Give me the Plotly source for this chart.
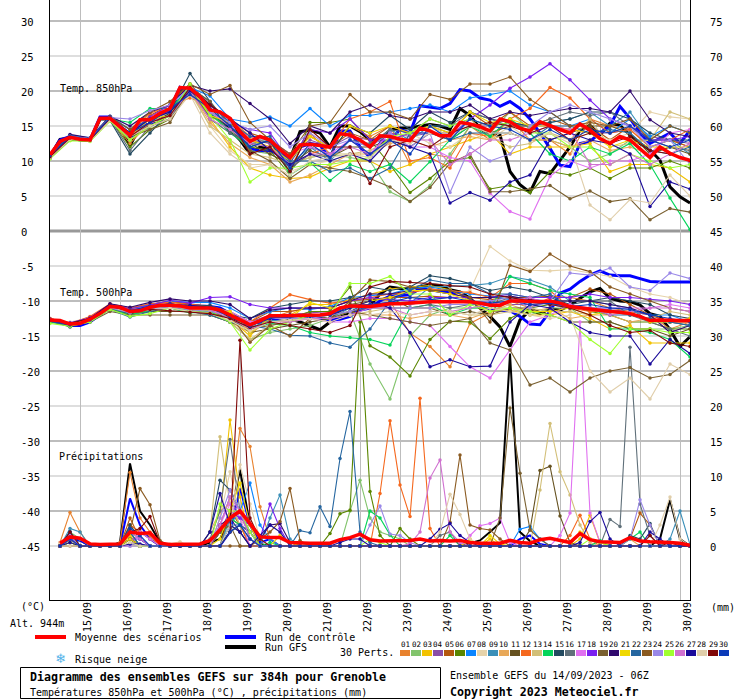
import plotly.graph_objects as go

# ---------- colours of the 30 perturbations ----------
member_colors = ["#e8822e","#82c46c","#f2c200","#8a4ea6","#b4580e","#5a8600","#0a85ff","#e6d3aa","#3a8fb8","#e8a858",
                 "#665220","#f5681e","#d2bf78","#05d45a","#234a60","#60707a","#e070f0","#7a1ff0","#7a6030","#30086e",
                 "#f0d800","#2566a0","#8a5a20","#9a88e8","#a0ff30","#d070d0","#1a0a9a","#e0ceaa","#800808","#0a3ab8"]
member_labels = ["%02d" % (k + 1) for k in range(30)]

date_labels = ["15/09","16/09","17/09","18/09","19/09","20/09","21/09","22/09",
               "23/09","24/09","25/09","26/09","27/09","28/09","29/09","30/09"]
date_hours = [18,42,66,90,114,138,162,186,210,234,258,282,306,330,354,378]
left_ticks = [30,25,20,15,10,5,0,-5,-10,-15,-20,-25,-30,-35,-40,-45]
right_ticks = [75,70,65,60,55,50,45,40,35,30,25,20,15,10,5,0]
thick_levels = [30,20,10,-10,-20,-30,-40]
thin_levels = [25,15,5,-5,-15,-25,-35,-45]

# ---------- 6-hourly main runs (index 0..64) ----------
mean_t850 = [10.9,12.8,13.4,13.1,13,16.1,16.1,14.9,13.7,15.9,15.9,16.8,17.5,20.5,20.4,19.2,17.3,17,16.1,14.2,12.8,13.5,13,11.6,10.5,12.3,12.4,12.2,12,13.9,13.7,13,12,
             13.6,13.5,13.1,12.9,14.7,14.3,13.6,13.6,15.5,15.3,14.9,14.3,16,15.6,14.7,14.3,15.6,15,14.5,14,15.3,14.4,13.2,12.5,13.5,13,11.8,10.5,12,11.1,10.5,10.1]
ctrl_t850 = [10.7,13,13.5,13.2,13,16.3,16.3,15,13.2,15.2,15.2,16.5,17.5,20.5,19.6,18.3,16.6,15.9,15,13.8,11.8,11.4,11.5,11.2,10,12,12.5,12.3,10.3,14.3,14.3,12,10.5,
             12.5,13,14.5,14,17.9,17.7,17.5,18.2,20.2,20,19,18.7,17.8,18.5,17.5,16,14,11.8,9.4,9.2,12.5,12.8,14,15,17.8,16.1,14,12.5,13.2,14,12.5,14.4]
gfs_t850 = [10.6,13.1,13.3,13,12.9,16,16,14.8,12.2,14.9,15,16,17,20.2,20,18.6,16.5,16,14.5,13,11,12,11.8,11,10.2,14.2,14.4,14,12,15,15,14.2,13,
            13,14.4,14.7,14.7,15,15.2,15,14.5,17.5,16.5,14.7,13.7,13.7,8.5,6.6,5.5,8.5,8.2,10.1,12,14.4,15.1,13.7,15.4,15.1,13.7,12.5,11.6,10.1,6.3,4.9,4]
mean_t500 = [-12.7,-12.8,-13.3,-13.2,-12.6,-11.8,-10.8,-10.9,-11.5,-11.4,-10.9,-10.6,-10.6,-10.7,-11,-11,-11,-11.3,-12,-12.7,-13.4,-12.8,-12.1,-12.1,-12.1,-12,-12,-12,-11.8,-11,-10.7,-10.7,-10.8,
             -10.6,-10.4,-10.4,-10.3,-10.1,-10.1,-10.1,-10.1,-10.1,-10.1,-10.3,-10.6,-10.6,-10,-10,-10.1,-10.1,-10,-10.3,-10.8,-11,-11.1,-11.4,-11.5,-11.6,-11.8,-12.2,-12.8,-12.7,-12.8,-12.8,-12.8]
ctrl_t500 = [-12.8,-13,-13.5,-13.5,-13,-12,-10.9,-10.8,-11.4,-11.2,-10.6,-10.4,-10.3,-10.4,-10.6,-10.7,-10.8,-11,-11.8,-12.5,-13.2,-13,-12.7,-12.3,-12.1,-12,-12.2,-12.4,-12.7,-12.6,-12.2,-11.3,-11,
             -10,-9.3,-9.2,-9.1,-8.2,-8.4,-8.6,-8.7,-9,-9.8,-10.8,-11.3,-11.4,-11.4,-12.2,-13.3,-13.4,-11.5,-8.9,-8.3,-7.2,-6.3,-5.7,-6.3,-6.4,-6.4,-6.8,-7.2,-7.3,-7.3,-7.3,-7.3]
gfs_t500 = [-12.7,-12.9,-13.4,-13.3,-12.7,-11.9,-10.9,-10.9,-11.6,-11.4,-11,-10.6,-10.4,-10.5,-11,-11,-11,-11.4,-12.2,-12.8,-13.2,-13,-12.6,-12.4,-12.5,-13,-13.5,-14.1,-13,-12.3,-11.6,-11,-10.6,
            -9,-8,-8.2,-8.2,-8,-7.7,-7.8,-8.4,-8.7,-9.6,-11,-12.2,-13.7,-16.5,-12.7,-11.3,-11.8,-11.1,-11.3,-10.6,-9.6,-8.7,-8.2,-9.6,-10,-10.1,-10.6,-11.8,-12.2,-14.1,-16.5,-15.1]
mean_rain = [.4,1.3,1.1,.3,.2,.2,.3,2,1.8,1.9,.4,.2,.2,.2,.3,.8,2.3,4,5,3.2,1.3,1.2,1.2,.5,.4,.4,.4,.4,.9,1.2,1.7,.9,
             .7,.7,.7,.8,1,.7,.8,.7,.8,.5,.4,.4,.4,.8,.5,.4,.9,1.1,.8,.5,1.8,.9,.6,.5,.5,1.2,.7,.6,.6,.5,.4,.1]
ctrl_rain = {1:.2,2:1,3:.8,8:6.8,9:3,10:1,18:2,19:8.2,20:3,21:.5,22:1,47:1,48:1.5,49:.3}
gfs_rain = {1:.2,2:1,3:.8,7:.5,8:11.8,9:5,10:3,11:.5,16:.5,17:1,18:4,19:10.9,20:3,21:.3,42:.4,43:.8,44:2,45:3.3,46:27.5,47:2,48:.7,61:1,62:6.6,63:1}

# ---------- 12-hourly perturbations ----------
pert_t850 = [
 [10.6,13.3,13,16,12.5,15.5,17,20,17.5,16,13.5,12.5,9,14,11,15,13.5,15,9.5,11,10.5,15,13,16,13,13,11,16,15,14.5,12,13,12],
 [10.5,13.2,13,15.8,13,15,16.5,19.8,16.5,14.5,11.5,11,9.5,10.5,11,10.5,10,5.6,4.2,6.5,11,15,14,17,14.5,13,12,10,11,13,13,15,14],
 [10.4,13,12.9,15.9,13.5,15,16,20,16,12,9,8,7.5,7.7,9,10,10,8.5,9.5,11,12,13,14,11,12,12,12,12.5,8.5,9.5,9.5,9,7],
 [10.8,13.5,13.2,16.2,14,16,17.5,20.5,17,15,13,12.5,11,13,12,13.5,13,14,13.5,14,14,15,15,15.5,15,15,14.5,14,14,14.5,13.5,13,12.5],
 [10.9,13.6,13.1,16.3,13.5,16.5,18,21,18,16,14,13,11,13.5,12,14,13,15,14,15,14,17,15,17,15,16,15,15,13,15,13,13,12],
 [10.7,13.4,13,16,12,14.5,16,20,16.5,15,12,11.5,8,15.5,15.5,16,13,9.5,5.5,7.5,10,10.5,6,6.5,5.5,8.5,8,9,7.5,9,9,10,9],
 [10.9,13.7,13.3,16.4,14.5,16,17.5,20.5,19.3,16,15.5,16.3,15,17.5,15,16.5,16.5,17,17.5,18,17,19,19.5,20,18,17,15,16,14,16,13.5,15,14],
 [10.5,13.1,12.9,15.7,13.5,15.5,16,19.8,15,11.5,9.5,9.5,8.5,9.5,10,11,10.5,13,14,12.5,12,14,13,15,13,14,13,14,13,14,17,16.3,16],
 [10.8,13.5,13.1,16.1,13,15.5,17,20.5,18.5,15,13,13,9.5,12,10,13,12,14.5,13,15,15,16,15,15.5,15,15.5,16,17,15,17,13,13,11],
 [10.6,13.2,13,16,13,15,16,20,15.5,12.5,10.5,9.5,7,8,9.5,11,11,12.5,13,12,13,13.5,13,14,13,13,12,13,11.5,12,11,12,11.5],
 [10.7,13.3,13,16,13.5,15,16.5,20,17,15.5,12.5,11,9.5,11.5,10.5,12,12,13,12,14,13,15,14,15,15,13,14,15,15,14,11,12,11],
 [10.5,13.4,13,16.2,14,16.8,18,19,18,16,13,12,9,11,12,16,17,18.5,10,10.5,9,14,13.5,16,17.5,20.5,19,16,14,14.5,12,13,14.5],
 [10.6,13.3,13,16,13.5,15.5,17,20,15,13,11,10.5,9.5,10.5,11,11,11.5,13,14,15,13.5,16,13.5,12,12.5,14,13,16,12,12.5,13,17,16],
 [10.7,13.4,13,16,15.5,17.5,17.5,20.3,17,14,12,13,8,9.8,7.2,9.5,8.5,9.5,7,9.9,13,15,13.5,16,14,11,10,12,11,12.5,9.5,4.7,0.2],
 [10.4,13,12.9,15.8,11,14,17,22.5,18.5,14,12.5,12.8,8.5,12,11,15,14,16.5,14.5,17,15.5,17,16,15.5,15,15.5,16,17,17,16,14,13,13],
 [10.6,13.2,13,16,11.5,15,16,20.3,16,14,12.5,12,9,11,10.5,13,12.5,14.5,14,16,15,17,16,15,15,16,17,16.5,17,15,13,12,11.5],
 [10.7,13.4,13.1,16.1,13.5,16,17,20.5,17,15,13.5,13,11,12,11,13,11,14,12,12,10.5,10,5.4,2.8,1.7,7.8,10,9,10,10,11,14,14.5],
 [10.8,13.5,13.2,16.2,14,16.3,18,20.8,18,15.5,14.5,14,10,14.5,14,16,13,13,14,14,13.5,16,18,20.4,22,23.9,21.6,18.7,16,15,13,13,13.5],
 [10.6,13.2,13,16,13.5,14.5,15.5,20.5,18.5,15,11.5,10,7.5,9.5,9,8.5,7.5,6.3,4.2,6.2,9.7,11,5.6,5.6,6,6.5,4.6,5.7,4.2,4.6,1.6,3.2,2.7],
 [11,13.8,13.3,16.4,15,17,18,20.8,20,20.3,18.2,16,12.5,15,14,17,18,16.5,16,17,17,18,16,17,16.5,17,17.5,17.5,17,20,15.9,14,13.5],
 [10.7,13.3,13,15.9,13.5,16,16.5,20.5,16.5,15.5,13,12,10,13.5,12,15,14,15,14,15,14,17,15.5,16,15,15,14.5,14,12,13,12,12,12],
 [10.9,13.6,13.2,16.2,14.5,16,17,20.5,18,15.5,13.5,13.5,10,10,8.5,9,7.5,9,14,14,13,14,14,14,13,15,15,14,14.5,14,11.5,11,12],
 [10.8,13.5,13.1,16.3,14.5,17,18.5,21,19.5,20.8,15.5,13,11,15,15.5,19.5,17,17,16,19.5,18.8,21,21,22,18.8,17,15,15.5,15,16,13,15,14],
 [10.7,13.5,13.2,16.2,16,17.2,18,20.5,17,15.5,14.5,15,12,14,12,13,12,14,12,14,5.5,12,10,11,15,17,18,17,16,15,12,13,9.5],
 [10.3,12.9,12.8,15.7,13,15,16.5,21,16.5,13,7,9,9,9.5,9.5,10,10.5,13.5,14,16,15,16,15,15.5,14,14,12,12,9.5,11,10,9,9.5],
 [10.6,13.2,13,16,13.5,15.5,16.5,20,16,14.5,12.5,12,9.5,11,11,12,11,13,13,13,9.5,11,13,13,14,15,14.5,9.5,9.5,11,9.5,11,12.5],
 [10.7,13.4,13,16.1,14,16,17,20,18,16,14,11.5,9.5,11,10,11,10,13,12,11,4,5.5,4.4,7,8,13,14,13,12.5,11,3.5,7,6],
 [10.5,13.1,12.9,15.8,13.5,15,16,19.5,14,11,9,9.5,8,10,10.5,11,10.5,13,12.5,14,13.5,15,14,14,13,14,12.5,3.7,1.6,4.5,4,8,5],
 [10.6,13.3,13,16.1,13.5,15.5,16.5,20.5,18,16,11,12,8.5,14.5,12,12,6.8,12,13,12,14,15,15.5,15,14,15,13,14,12.5,13.5,11.5,11,10],
 [10.8,13.5,13.1,16.2,14,15.5,17.5,19.5,17.5,15,12,13,9,12.5,10.5,13,11,13,11,15,13,16,15,14.5,13,14.5,13,14.5,14,15,13,12,13],
]
pert_t500 = [
 [-12.8,-13.4,-12.4,-10.6,-11.2,-10.7,-10,-10.7,-11.5,-11.8,-13,-12.5,-11.5,-11,-11,-10,-9.5,-10,-14.6,-16.5,-19.4,-13.2,-11.7,-10,-11,-9.5,-9.5,-10,-11,-11.5,-12,-14,-13],
 [-13,-13.5,-13,-11,-12,-11.5,-11.5,-11.5,-12,-13,-15.5,-14.5,-14,-13.5,-12.5,-11.5,-19,-24,-15,-12,-11,-11,-11,-11,-12,-11,-11,-13,-13,-14,-14,-14,-13.5],
 [-12.9,-13.4,-12.8,-10.9,-11.6,-11,-10.5,-11.2,-11.5,-12.5,-15,-12,-12,-10.5,-10.5,-9.8,-9,-8.3,-8,-7.8,-8.4,-10,-11.5,-11.3,-12,-12,-11.5,-12.5,-14,-13.5,-16,-16,-16],
 [-12.6,-13.1,-12.5,-10.7,-11.3,-10.8,-10.4,-10.8,-10.8,-11.8,-13,-12,-12,-11.7,-11.5,-10.5,-10.5,-10.2,-10.5,-10,-10,-10.3,-10,-10.5,-10.5,-10.3,-11,-11,-11.3,-11.5,-12,-13,-13],
 [-12.5,-13.2,-12.3,-10.5,-11,-10.5,-10,-10.5,-10.7,-11.5,-13,-11.5,-11.5,-11,-11,-10,-9.8,-9.5,-9.5,-9.3,-9.5,-9.5,-9.8,-9.5,-9.5,-9.3,-9.5,-8.3,-9,-10.5,-12,-13,-13.5],
 [-12.8,-13.5,-12.7,-11,-11.6,-10.9,-10.8,-11.3,-11,-11.8,-13.5,-12.5,-12.5,-11.5,-11.5,-8,-16.4,-18,-20.7,-15.5,-12.9,-13,-15.4,-12.5,-11,-10.5,-10.5,-11.5,-12,-13,-13,-14,-14],
 [-12.7,-13.2,-12.6,-10.6,-11.1,-10.5,-10,-10.2,-10.2,-11,-12.5,-11.5,-11,-11.2,-10.8,-9.5,-9.2,-9,-8.2,-8,-8.5,-9,-9.3,-9.8,-10,-10.5,-11,-11,-11,-11,-12,-12,-13],
 [-12.6,-13,-12.4,-10.6,-11.3,-10.8,-10.2,-10.8,-11.2,-12.5,-14,-13,-12.5,-12,-12,-10.5,-11,-10.5,-10.4,-10,-9.5,-8.5,-2.2,-4.3,-5.6,-5.7,-5.5,-6,-6.5,-8,-9,-9.5,-10.5],
 [-12.9,-13.5,-12.8,-11,-11.6,-11,-10.8,-11.2,-11.3,-12.5,-13.8,-12.8,-12.8,-12.5,-12.5,-11,-11,-10.5,-10.3,-8,-7.9,-7.8,-7.5,-6.5,-7,-8,-10,-10,-10.5,-11,-13,-13,-13.5],
 [-12.7,-13.3,-12.5,-10.7,-11.4,-10.7,-10.5,-11,-12,-13,-14.5,-13,-12.8,-12,-12,-11.5,-12,-12,-12.5,-12,-12,-12.5,-11.5,-10.5,-11.5,-11,-12.5,-12,-12,-13,-12.5,-13,-13],
 [-12.8,-13.4,-12.7,-11.2,-11.8,-11.5,-11.5,-11.4,-11.8,-12.3,-14.5,-14,-13.5,-13,-12.5,-10.5,-10,-9.5,-11,-11,-12,-11.5,-12,-11,-11,-12,-13,-13,-13,-14,-14,-15,-14],
 [-12.5,-13.2,-12.2,-10.4,-11,-10.4,-10.2,-10.5,-10.8,-12,-13,-11,-9.1,-9.8,-10.3,-10,-9.5,-9,-8.8,-8.3,-8.5,-8.8,-9.5,-7.5,-7.5,-8.5,-11,-11.5,-11.5,-12,-12.5,-13,-13],
 [-12.9,-13.4,-12.8,-10.9,-11.5,-10.8,-10.6,-11.2,-11.5,-13,-15.5,-13.5,-13,-12.5,-12.5,-12,-11.5,-11,-11,-11,-11.5,-12,-12,-11.5,-11,-11.5,-11.5,-12,-11.5,-12,-12.5,-11.5,-12],
 [-13,-13.6,-12.9,-11,-12,-11.3,-11,-11.7,-11.5,-13,-14,-13.2,-13.5,-14.5,-15,-15.2,-15.5,-16.3,-11,-10.5,-12,-11,-11,-6.5,-7.5,-8.5,-9,-9.5,-14,-14,-14.5,-15.5,-18],
 [-12.8,-13.7,-12.9,-11,-11.8,-11,-10.4,-10.8,-10.6,-12,-12.5,-11,-10.5,-10,-10,-9.5,-8,-8.5,-8,-6.4,-6.8,-7.5,-8.5,-8,-8.5,-9.5,-10.5,-10,-9.5,-10,-10.5,-12,-12.5],
 [-12.7,-13.3,-12.6,-10.8,-11.5,-11,-10.8,-11,-11,-12,-13.5,-12,-12,-12.5,-12,-11.5,-11,-11,-11,-10.5,-11,-10.5,-10.5,-9.5,-10,-10,-10,-10,-10,-12,-13,-14,-15],
 [-12.7,-13.2,-12.5,-10.6,-11.3,-10.8,-10.5,-11,-11,-11.5,-13,-12.5,-12.5,-12.5,-13,-13,-12.5,-12.5,-13,-13.5,-16.5,-19.4,-21,-17,-13,-12,-10.5,-11,-11,-11,-11,-10.5,-11],
 [-12.6,-13.1,-12.4,-10.5,-11.1,-10.6,-9.9,-10.3,-9.5,-9.4,-10.5,-11,-11,-11,-11,-10,-9.5,-9.8,-10,-9.5,-9.5,-9.5,-9.5,-9,-9.5,-9.5,-9.5,-9,-9.5,-9.5,-9.8,-10,-10.5],
 [-12.9,-13.5,-13,-11.5,-12,-12,-12,-12,-12,-13,-14,-13.5,-13,-12,-12.5,-11.5,-12,-12.5,-13,-13.5,-13,-12.5,-16,-17,-22,-21,-23,-21,-20,-19.5,-21,-20.5,-18.5],
 [-12.6,-13.2,-12.5,-10.4,-10.9,-10.2,-9.7,-10,-10,-10.5,-12.5,-11.3,-11,-11,-11,-10,-9,-9,-8.5,-8.5,-9,-9.5,-9.5,-9.3,-9.8,-10,-10,-10,-10.5,-11,-12,-14.5,-13.5],
 [-12.8,-13.3,-12.6,-10.8,-11.6,-11,-10.7,-11.2,-11.3,-11.5,-14.5,-12.5,-12.5,-10.2,-11,-11,-10,-9.5,-8.5,-8.5,-9,-10,-11.5,-11,-11.5,-11.5,-11,-12,-11.5,-11.5,-13,-13,-12.5],
 [-12.9,-13.6,-13,-11.2,-12.3,-11.5,-11,-11.5,-12,-13,-13.5,-14,-14.9,-15,-16,-16.6,-14,-10,-8.5,-7,-7.5,-7.5,-9,-9,-9.5,-9,-11,-11,-12,-12,-12.5,-13,-13.5],
 [-12.7,-13.2,-12.6,-10.7,-11.3,-10.8,-10.4,-10.8,-11,-12,-15.9,-13.5,-15,-12.5,-12.5,-10,-7,-7.2,-8,-8.5,-8.5,-9.5,-13,-4.9,-5.8,-3.3,-5,-5.8,-8,-9,-10,-11,-11.5],
 [-12.8,-13.3,-12.7,-11,-11.7,-11.2,-11,-11.3,-11.5,-12,-13.5,-12.5,-12.5,-12.5,-12,-11.5,-10.5,-11,-11,-11,-10.5,-10.5,-10,-9.5,-11,-10,-6,-6.3,-5.3,-8,-8.5,-6,-6.8],
 [-13.2,-13.6,-13,-11.2,-12.2,-11.8,-11,-11.5,-11.7,-13,-17,-14,-13,-12,-12,-7.5,-7.5,-6.5,-9,-9,-12,-10.5,-11.5,-11,-11.5,-12,-13,-15.5,-17.5,-14,-14,-14.5,-14.5],
 [-12.7,-13.3,-12.7,-10.8,-11.4,-10.9,-10.8,-11,-11.2,-12.5,-14,-13,-13,-12.5,-12.5,-12,-11,-11,-12,-11.5,-11.5,-11,-10.5,-10,-9.5,-10.5,-11,-11,-12,-11.5,-11,-11,-11.5],
 [-12.8,-13.4,-12.6,-10.7,-11.4,-10.9,-10.5,-10.6,-10.9,-12,-13.5,-12.5,-12,-12,-12,-11,-10,-11,-14.5,-19.4,-18.4,-19.4,-19.3,-13,-10.5,-11,-13,-14.5,-15,-15,-19,-15.5,-17.5],
 [-12.7,-13.3,-12.6,-10.9,-11.5,-11.2,-11,-11.5,-11.8,-12.8,-14.3,-13,-12.7,-12.5,-13,-12,-12,-11.5,-12,-11.5,-11.5,-12,-11,-11.5,-12,-12.5,-12,-20,-23,-21,-24,-19,-20.5],
 [-12.7,-13.2,-12.5,-10.7,-11.5,-11.2,-11.4,-11.6,-11.8,-12.5,-13.8,-13,-13.5,-14,-14.5,-13.5,-8,-7.2,-7.3,-7.5,-7.8,-8,-9,-9.5,-10,-10.5,-11,-12,-13.5,-14.5,-14.2,-16,-16.5],
 [-12.8,-13.4,-12.7,-10.8,-11.4,-10.7,-10.4,-10.9,-11,-12.2,-13.6,-12.4,-12.3,-12.2,-12,-10.8,-10.5,-10.2,-9.5,-9.8,-9.5,-10,-10.3,-10,-10.5,-10.3,-10.8,-10.5,-11,-11.2,-12,-12.5,-13],
]
pert_rain = [
 {1:.5,2:4.8,3:2,7:.5,8:10.5,9:4,10:2,17:2,18:5,19:16.8,20:14.2,21:5.6,22:1},
 {2:2,3:1,8:2,9:1,18:4,19:3,30:5,31:9.4,32:4,33:2,34:1.5,35:1},
 {2:1.5,8:1.5,17:4,18:18,19:7,20:1,42:1,44:1,53:1,54:4.4,55:.5},
 {2:2,9:2,10:1,17:3,18:7,19:4,20:2},
 {2:1,8:4,9:1,18:5,19:3,58:1,59:4.7,60:3},
 {2:1,8:2,17:2,18:3,19:2,28:1.8,29:4.6,30:5.1,31:32,32:7.8,33:1.5,35:2.5,36:1},
 {2:2,8:3,9:1,18:3,19:5,20:9,21:3,22:1,47:2.4,48:2.8,49:1},
 {1:.5,2:1,12:.3,13:.6,17:4,18:10.6,19:4,20:2},
 {2:2.5,3:2,8:2,18:4,19:4,20:3,22:4,23:7.3,24:1,62:1,63:5,64:.2},
 {2:1,8:1,16:2,17:5,18:6,19:3,58:1},
 {2:.5,8:3,9:2,10:1,18:2,19:3,20:2,48:2.3,49:10.8,50:11.4,51:4.3,52:.5},
 {2:1.5,8:3,9:2,10:1.5,17:2,18:4,19:3,33:7.5,34:17.9,35:8.7,36:4.2,37:21.1,38:2.5,52:1.5,53:4.4,54:1},
 {2:1,16:2,17:15.6,18:6,19:3,20:1,49:8,50:17.5,51:10.6,52:7.3,53:3,54:.5},
 {2:1,8:1,17:2,18:4,19:3,20:1,22:.5,26:.3,32:5,33:4,34:1.6,40:1.5,55:.8,58:1,59:2},
 {2:2,8:3,9:1,16:2,17:9.4,18:8,19:5,20:2,58:1.5,59:1,60:3.2},
 {2:1,8:2,16:1,17:5,18:15.2,19:5,20:1,39:1.5,40:2,56:3.8,57:2.8,58:28.4,59:6,60:1.5},
 {2:1,9:2,10:1,17:3,18:6,19:4,42:1.5,43:2.9,44:3.2,45:4,46:.5,51:1.5,52:4.7,53:32,54:4.7,55:.5},
 {2:1.5,8:1,9:1,17:2,18:5,19:4,20:3,21:1,22:6,23:2.5},
 {2:.5,8:1,17:2,18:3,45:4,46:19.7,47:10.4,48:2.3,49:1},
 {2:1,8:1,17:3,18:4,19:2,21:1,22:3,23:3.2,24:.5},
 {2:.5,8:1,17:1,18:5,19:9,20:3,23:1.5,24:.5,42:.8,44:1.5,45:.3,53:2,54:1,55:.5},
 {2:2,8:2,18:3,19:3,20:2,25:2.2,26:1.9,27:5.6,28:2.8,29:12.5,30:19.2,31:2,32:.5},
 {8:2,9:8.2,10:5.9,11:.8,21:1,22:2,23:3.5,24:8.2,25:.8,40:3.4,41:13,42:3,43:2.5,44:2.3,45:1},
 {2:1.5,17:4,18:8,19:5,20:2,32:3,33:5.7,34:1.7,35:1.5,36:.5,58:1,59:6.6,60:3},
 {2:.5,8:.5,17:6,18:5,19:5,20:2,32:1,33:.5,54:1,55:.5},
 {2:1,8:2,9:1,17:3,18:7,19:5,20:1,36:.3,37:2,38:9.7,39:12.3,40:2,41:.5},
 {2:.5,8:.3,9:.3,16:2,17:7.5,18:3,19:2,21:1.5,22:3,23:2,29:.5,30:1,31:1,38:1,39:2.4,40:3.2,41:1.5,42:.5,53:.5,54:3.5,55:4.8,56:1,60:2,61:1},
 {8:.5,13:.5,18:3,19:11.6,20:6,21:1,39:2,40:7.4,41:4.5,42:1,61:3,62:7,63:1},
 {2:2,8:2,9:2.5,10:4.2,11:.5,18:2,19:29.4,20:4,21:1,60:1.5,62:.5},
 {2:1,8:2.5,9:1.5,18:2,19:3,20:1},
]

STEP_H = 6
RAIN_OFFSET = -45      # rainfall 0 mm sits on -45 of the left scale
N_STEPS = 65

hours_6h = [k * STEP_H for k in range(N_STEPS)]
hours_12h = [k * 2 * STEP_H for k in range(33)]
rain_hours = hours_6h[1:]

def dense_rain(sparse):
    return [sparse.get(k, 0) + RAIN_OFFSET for k in range(1, N_STEPS)]

FONT = "DejaVu Sans Mono"
fig = go.Figure()

def add_main(x, y, color, width):
    fig.add_trace(go.Scatter(x=x, y=y, mode="lines", line=dict(color=color, width=width),
                             hoverinfo="skip", showlegend=False))

# GFS and control lie under the perturbations, the mean over everything
for y, w in [(gfs_t850, 3), (gfs_t500, 3), (dense_rain(gfs_rain), 2)]:
    add_main(hours_6h if len(y) == N_STEPS else rain_hours, y, "#000000", w)
for y, w in [(ctrl_t850, 3), (ctrl_t500, 3), (dense_rain(ctrl_rain), 2)]:
    add_main(hours_6h if len(y) == N_STEPS else rain_hours, y, "#0000ff", w)

def add_pert(x, y, color):
    fig.add_trace(go.Scatter(x=x, y=y, mode="lines+markers", line=dict(color=color, width=1.1),
                             marker=dict(color=color, size=3.5), hoverinfo="skip", showlegend=False))

for k, color in enumerate(member_colors):
    add_pert(hours_12h, pert_t850[k], color)
    add_pert(hours_12h, pert_t500[k], color)
    add_pert(rain_hours, dense_rain(pert_rain[k]), color)

mean_rain_dense = [v + RAIN_OFFSET for v in mean_rain]
for y in (mean_t850, mean_t500, mean_rain_dense):
    add_main(hours_6h if len(y) == N_STEPS else rain_hours, y, "#ff0000", 3.5)

PX_L, PX_R, PX_T, PX_B = 50, 690, 0, 600
def xp(px): return (px - PX_L) / (PX_R - PX_L)
def yp(py): return (PX_B - py) / (PX_B - PX_T)

annotations = []
def label(text, px, py, size=10, bold=False, anchor="left", color="#000000"):
    annotations.append(dict(text="<b>%s</b>" % text if bold else text, x=xp(px), y=yp(py), xref="paper", yref="paper",
                            xanchor=anchor, yanchor="middle", showarrow=False,
                            font=dict(family=FONT, size=size, color=color)))

for v in left_ticks:
    annotations.append(dict(text=str(v), x=xp(19), y=v, xref="paper", yref="y", xanchor="left", yanchor="middle", yshift=-1,
                            showarrow=False, font=dict(family=FONT, size=10.5, color="#000000")))
for v, left in zip(right_ticks, left_ticks):
    annotations.append(dict(text=str(v), x=xp(708), y=left, xref="paper", yref="y", xanchor="left", yanchor="middle", yshift=-1,
                            showarrow=False, font=dict(family=FONT, size=10.5, color="#000000")))
for h, d in zip(date_hours, date_labels):
    annotations.append(dict(text=d, x=h, y=yp(617), xref="x", yref="paper", xshift=7, textangle=-90,
                            xanchor="center", yanchor="middle", showarrow=False,
                            font=dict(family=FONT, size=10, color="#000000")))

label("Temp. 850hPa", 58, 89)
label("Temp. 500hPa", 58, 292)
label("Précipitations", 57, 456)
label("(°C)", 19, 606)
label("(mm)", 709, 607, color="#000000")
label("Alt. 944m", 8, 623)
label("Moyenne des scénarios", 73, 637)
label("Run de contrôle", 263, 637)
label("Run GFS", 263, 647)
label("30 Perts.", 338, 652)
label("Risque neige", 73, 659)
annotations.append(dict(text="\u2744", x=xp(60), y=yp(658), xref="paper", yref="paper", xanchor="center", yanchor="middle",
                        showarrow=False, font=dict(family="DejaVu Sans", size=13, color="#55b4ea")))
label("Diagramme des ensembles GEFS sur 384h pour Grenoble", 28, 677, size=11.6, bold=True)
label("Températures 850hPa et 500hPa (°C) , précipitations (mm)", 28, 692, size=10)
label("Ensemble GEFS du 14/09/2023 - 06Z", 448, 675, size=10)
label("Copyright 2023 Meteociel.fr", 448, 692, size=11.6, bold=True)

shapes = []
GRID = "#bdbdbd"
for v in thin_levels:
    shapes.append(dict(type="line", xref="paper", yref="y", x0=0, x1=1, y0=v, y1=v, layer="below", line=dict(color=GRID, width=1)))
for v in thick_levels:
    shapes.append(dict(type="line", xref="paper", yref="y", x0=0, x1=1, y0=v, y1=v, layer="below", line=dict(color=GRID, width=2)))
shapes.append(dict(type="line", xref="paper", yref="y", x0=0, x1=1, y0=0, y1=0, layer="below", line=dict(color="#999999", width=3)))

def sample(x0, x1, py, color):
    shapes.append(dict(type="line", xref="paper", yref="paper", x0=xp(x0), x1=xp(x1), y0=yp(py), y1=yp(py),
                       line=dict(color=color, width=4)))
sample(35, 66, 637, "#ff0000")
sample(225, 256, 637, "#0000ff")
sample(225, 256, 647, "#000000")
shapes.append(dict(type="rect", xref="paper", yref="paper", x0=xp(20.5), x1=xp(440.5), y0=yp(667.5), y1=yp(698.5),
                   line=dict(color="#000000", width=1), fillcolor="rgba(0,0,0,0)"))

for k, (lab, color) in enumerate(zip(member_labels, member_colors)):
    left = 400 + 11 * k
    shapes.append(dict(type="rect", xref="paper", yref="paper", x0=xp(left), x1=xp(left + 10), y0=yp(650), y1=yp(656),
                       line=dict(width=0), fillcolor=color))
    label(lab, left + 5, 644, size=7.5, anchor="center")

fig.update_layout(
    width=740, height=700, margin=dict(l=50, r=50, t=0, b=100, pad=0),
    paper_bgcolor="#ffffff", plot_bgcolor="#ffffff", showlegend=False,
    xaxis=dict(range=[0, 384], tickvals=date_hours, showticklabels=False, ticks="", showgrid=True, gridcolor=GRID,
               gridwidth=1, zeroline=False, showline=True, linecolor="#000000", linewidth=1),
    yaxis=dict(range=[-52.714, 33], showticklabels=False, ticks="", showgrid=False, zeroline=False,
               showline=True, linecolor="#000000", linewidth=1, mirror=True),
    annotations=annotations, shapes=shapes,
)
fig.write_html("out.html", config=dict(displayModeBar=False),
               post_script="document.body.style.margin='0';document.documentElement.style.overflow='hidden';window.dispatchEvent(new Event('resize'));")
